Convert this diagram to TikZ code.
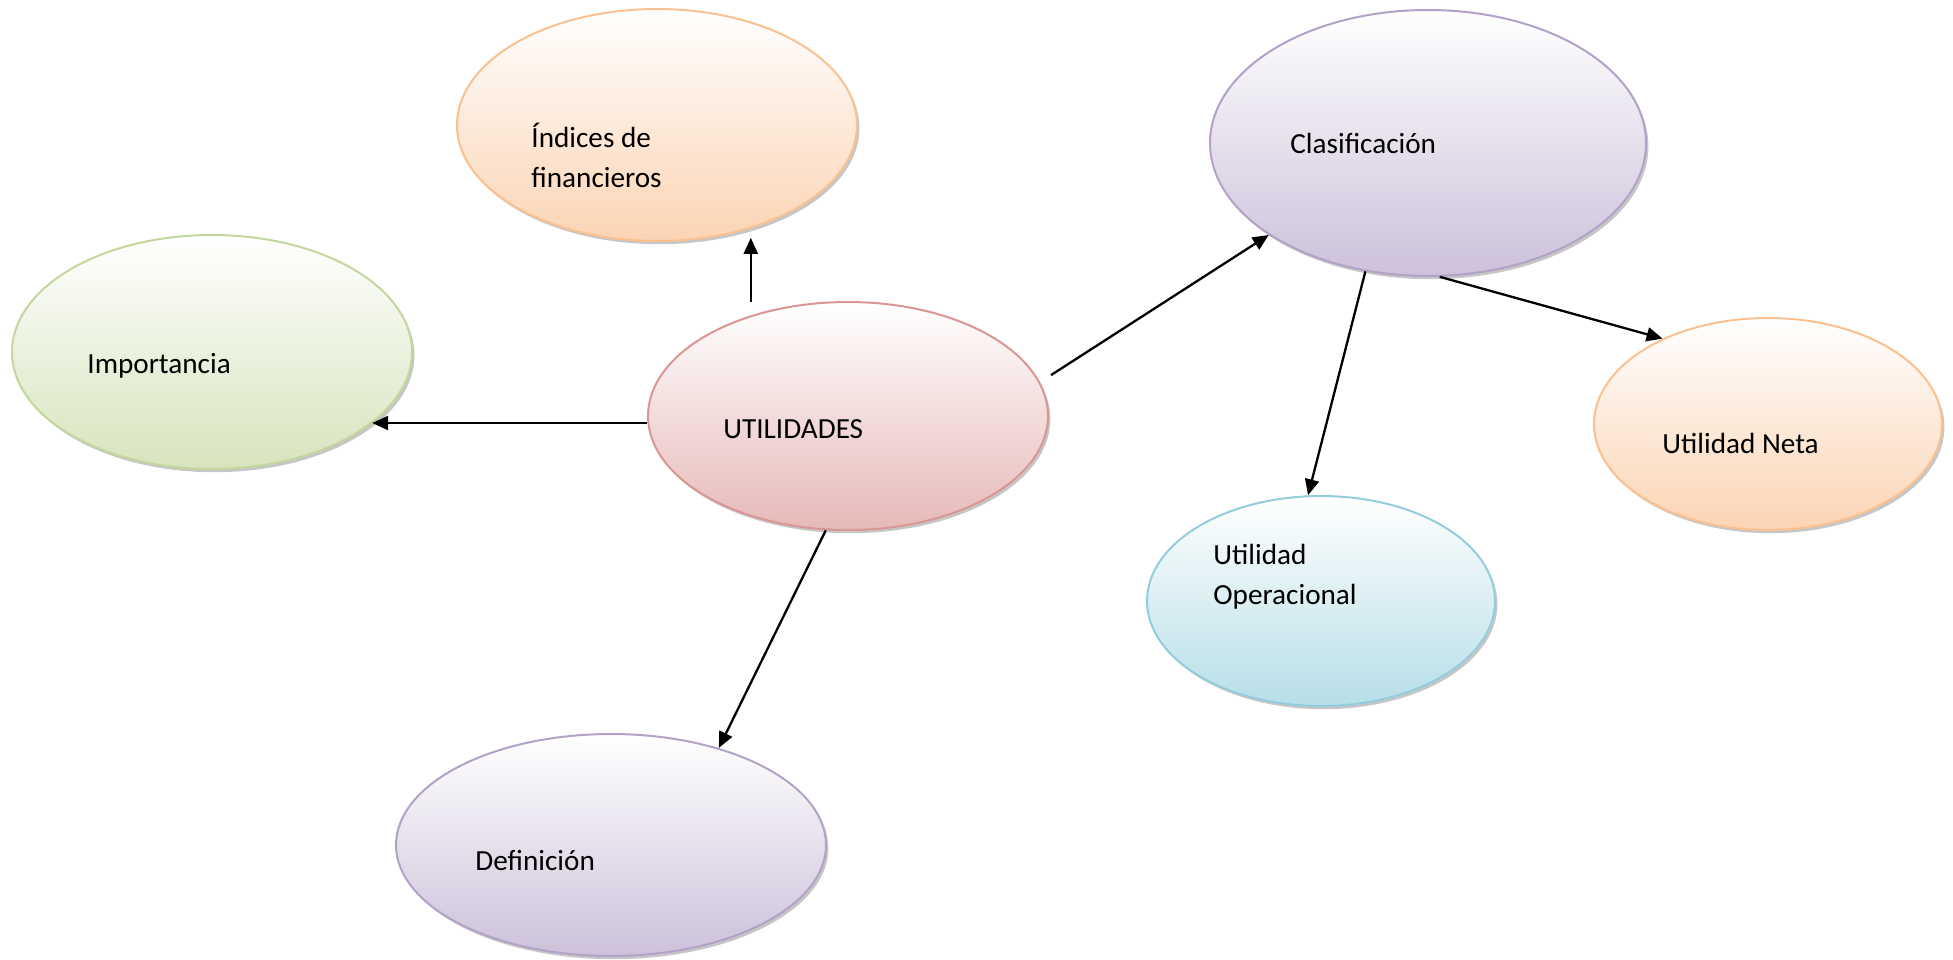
\documentclass[tikz,border=0pt]{standalone}
\usepackage{fontspec}
\setmainfont{Carlito}
\usepackage{xcolor}
\usetikzlibrary{shapes.geometric,shadows,arrows.meta}
\definecolor{rosaBorde}{HTML}{D99694}
\definecolor{rosaFondo}{HTML}{E6B9B8}
\definecolor{naranjaBorde}{HTML}{FAC090}
\definecolor{naranjaFondo}{HTML}{FBD4B4}
\definecolor{verdeBorde}{HTML}{C3D69B}
\definecolor{verdeFondo}{HTML}{D7E4BD}
\definecolor{lilaBorde}{HTML}{B3A2C7}
\definecolor{lilaFondo}{HTML}{CCC1DA}
\definecolor{celesteBorde}{HTML}{93CDDD}
\definecolor{celesteFondo}{HTML}{B7DEE8}

\begin{document}
\begin{tikzpicture}
    [x=0.5pt,y=-0.5pt,
    burbuja/.style 2 args={ellipse, draw=#1, line width=1pt, top color=white, bottom color=#2,
        drop shadow={shadow xshift=1.2pt,shadow yshift=-1.6pt,opacity=0.45,fill=black!50}, inner sep=0pt},
    texto/.style={anchor=base west, inner sep=0pt, align=left, font=\fontsize{14.6}{20}\selectfont},
    flecha/.style={line width=1.15pt, -{Triangle[length=8pt,width=7pt]}}]
    \useasboundingbox (0,0) rectangle (1953,959);
    % nodo central
    \node[burbuja={rosaBorde}{rosaFondo}, minimum width=200pt, minimum height=114pt] (util) at (848,416) {};
    \node[texto] (util-t) at (723,438) {UTILIDADES};
    % ramas
    \node[burbuja={naranjaBorde}{naranjaFondo}, minimum width=200pt, minimum height=116pt] (indices) at (657,125) {};
    \node[texto] (indices-t) at (531,187) {Índices de\\financieros};
    \node[burbuja={verdeBorde}{verdeFondo}, minimum width=200pt, minimum height=117pt] (imp) at (212,352) {};
    \node[texto] (imp-t) at (87,373) {Importancia};
    \node[burbuja={lilaBorde}{lilaFondo}, minimum width=218pt, minimum height=133pt] (clasif) at (1428,143) {};
    \node[texto] (clasif-t) at (1290,153) {Clasificación};
    \node[burbuja={lilaBorde}{lilaFondo}, minimum width=215pt, minimum height=111pt] (def) at (611,845) {};
    \node[texto] (def-t) at (475,870) {Definición};
    % clasificacion
    \node[burbuja={naranjaBorde}{naranjaFondo}, minimum width=174pt, minimum height=106pt] (neta) at (1768,424) {};
    \node[texto] (neta-t) at (1662,453) {Utilidad Neta};
    \node[burbuja={celesteBorde}{celesteFondo}, minimum width=174pt, minimum height=105pt] (oper) at (1321,601) {};
    \node[texto] (oper-t) at (1213,604) {Utilidad\\Operacional};
    %flechas
    \draw[flecha, shorten <=6.5pt, shorten >=5pt] (util.134) -- (util.134 |- indices.-47);
    \draw[flecha] (util.182) -- (util.182 -| imp.-24);
    \draw[flecha, shorten <=6.5pt] (util.10) -- (clasif.-150);
    \draw[flecha] (util.-101) -- (def.42);
    \draw[flecha] (clasif.-116) -- (oper.97);
    \draw[flecha] (clasif.-85) -- (neta.141);
\end{tikzpicture}
\end{document}
